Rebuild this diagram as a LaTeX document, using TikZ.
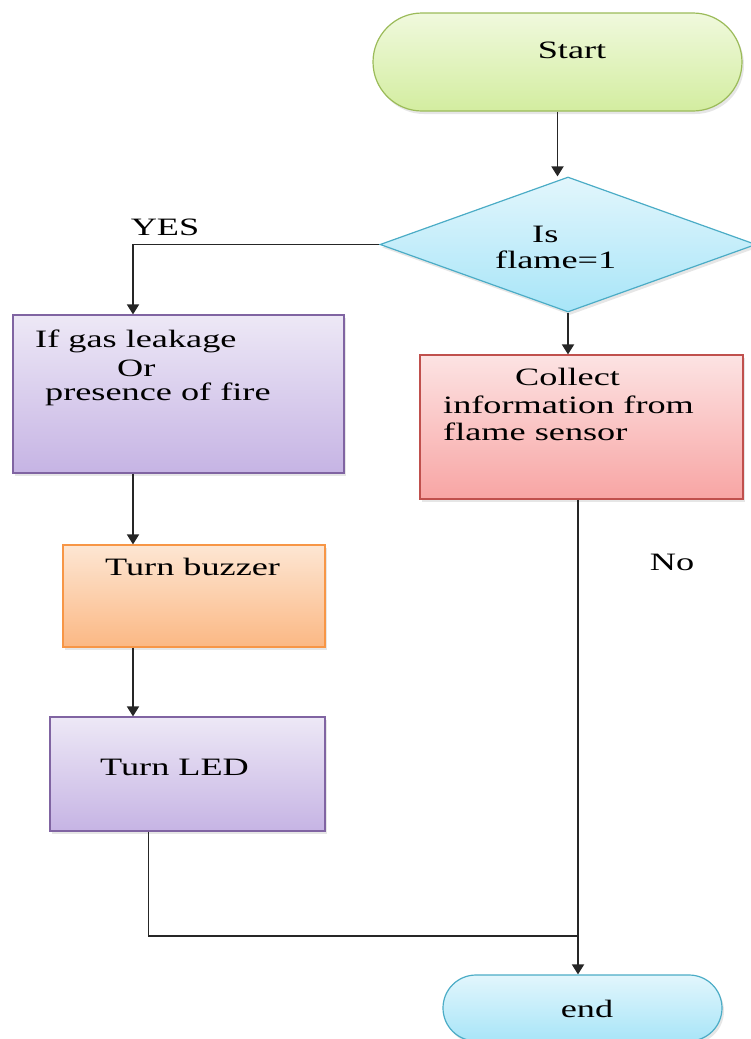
\documentclass[tikz,border=0pt]{standalone}
\usepackage{fontspec}
\setmainfont{Liberation Serif}[FakeStretch=1.45]
\usepackage{tikz}
\usetikzlibrary{arrows.meta}
\usetikzlibrary{positioning}
\usetikzlibrary{shapes.geometric}
\usetikzlibrary{shadows}
\definecolor{greenLine}{HTML}{9BBB59}
\definecolor{greenTop}{HTML}{F0F9DD}
\definecolor{greenBot}{HTML}{D3EDA0}
\definecolor{blueLine}{HTML}{4BACC6}
\definecolor{blueTop}{HTML}{E2F6FC}
\definecolor{blueBot}{HTML}{A8E5F8}
\definecolor{redLine}{HTML}{C0504D}
\definecolor{redTop}{HTML}{FCE3E3}
\definecolor{redBot}{HTML}{F8A5A4}
\definecolor{purpLine}{HTML}{8064A2}
\definecolor{purpTop}{HTML}{EDE8F6}
\definecolor{purpBot}{HTML}{C6B4E4}
\definecolor{orngLine}{HTML}{F79646}
\definecolor{orngTop}{HTML}{FDE6D3}
\definecolor{orngBot}{HTML}{FBB884}
\tikzset{box/.style = {draw, line width = 1.2pt, inner sep = 0,
    drop shadow = {opacity = 0.2, shadow xshift = 2pt, shadow yshift = -3pt}}}
\tikzset{term/.style = {box, rectangle, rounded corners = #1}}
\tikzset{decis/.style = {box, diamond}}
\tikzset{txt/.style = {inner sep = 0, font = \fontsize{25}{28}\selectfont}}
\tikzset{line/.style = {line width = 1.8pt, black!85}}
\tikzset{arr/.style = {line, -{Triangle[width = 12pt, length = 10pt]}}}

\begin{document}
\begin{tikzpicture}[x=1pt, y=1pt]
    \useasboundingbox (0, 0) rectangle (750, -1039);
    % shapes
    \node [term = 49pt, color = greenLine, top color = greenTop, bottom color = greenBot,
      minimum width = 369, minimum height = 98] (start) at (557.5, -62) {};
    \node [decis, color = blueLine, top color = blueTop, bottom color = blueBot,
      minimum width = 376, minimum height = 135] (dia) at (568, -244.5) {};
    \node [box, color = purpLine, top color = purpTop, bottom color = purpBot,
      minimum width = 331, minimum height = 158] (gas) at (178.5, -394) {};
    \node [box, color = redLine, top color = redTop, bottom color = redBot,
      minimum width = 323, minimum height = 144] (col) at (581.5, -427) {};
    \node [box, color = orngLine, top color = orngTop, bottom color = orngBot,
      minimum width = 262, minimum height = 102] (buzz) at (194, -596) {};
    \node [box, color = purpLine, top color = purpTop, bottom color = purpBot,
      minimum width = 275, minimum height = 114] (led) at (187.5, -774) {};
    \node [term = 33pt, color = blueLine, top color = blueTop, bottom color = blueBot,
      minimum width = 279, minimum height = 66] (end) at (582.5, -1008) {};
    % texts
    \node [txt, anchor = base] (startT) at (572, -58) {Start};
    \node [txt, anchor = base west] (isT) at (532, -242) {Is};
    \node [txt, anchor = base west] (flameT) at (495, -268) {flame=1};
    \node [txt, anchor = base west] (gasT) at (35, -347) {If gas leakage};
    \node [txt, anchor = base west] (orT) at (117, -376) {Or};
    \node [txt, anchor = base west] (fireT) at (45, -400) {presence of fire};
    \node [txt, anchor = base west] (colT) at (515, -385) {Collect};
    \node [txt, anchor = base west] (infoT) at (443, -413) {information from};
    \node [txt, anchor = base west] (sensT) at (443, -440) {flame sensor};
    \node [txt, anchor = base west] (buzzT) at (105, -575) {Turn buzzer};
    \node [txt, anchor = base west] (ledT) at (100, -775) {Turn LED};
    \node [txt, anchor = base] (endT) at (587, -1017) {end};
    \node [txt, anchor = base] (yes) at (165, -235) {YES};
    \node [txt, anchor = base] (no) at (672, -570) {No};
    % connectors
    \coordinate (lane) at (133, 0);
    \coordinate (ledx) at (148.5, 0);
    \coordinate (nox) at (578, 0);
    \coordinate (join) at (578, -936);
    \draw [arr] (start.south) -- (start.south |- dia.north);
    \draw [arr] (dia.west) -| (gas.north -| lane);
    \draw [arr] (dia.south) -- (dia.south |- col.north);
    \draw [arr] (gas.south -| lane) -- (buzz.north -| lane);
    \draw [arr] (buzz.south -| lane) -- (led.north -| lane);
    \draw [line] (led.south -| ledx) |- (join);
    \draw [arr] (col.south -| nox) -- (end.north -| nox);
\end{tikzpicture}
\end{document}
